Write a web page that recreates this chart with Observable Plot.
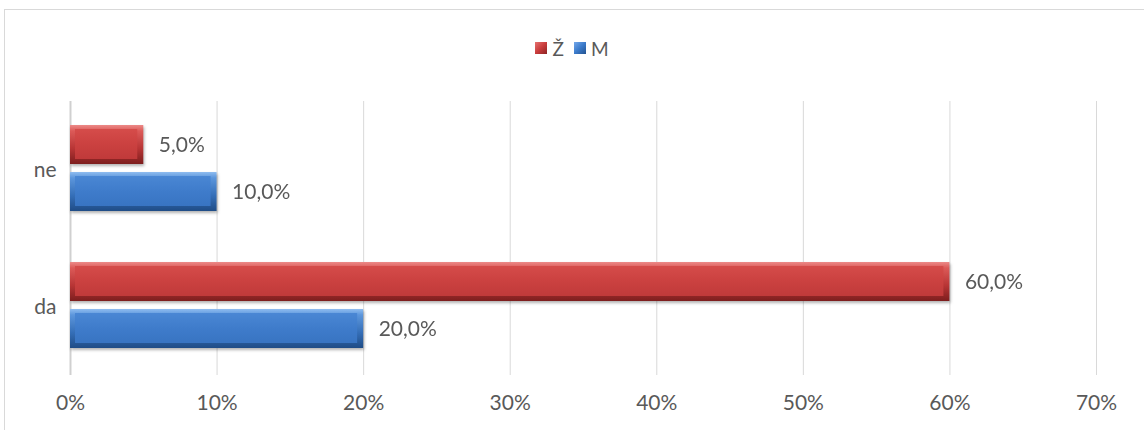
<!DOCTYPE html>
<html>
<head>
<meta charset="utf-8">
<script src="https://cdn.jsdelivr.net/npm/d3@7"></script>
<script src="https://cdn.jsdelivr.net/npm/@observablehq/plot@0.6"></script>
<style>
  html, body { margin: 0; padding: 0; background: #fff; overflow: hidden; width: 1144px; height: 430px; }
  #frame { position: absolute; left: 4px; top: 9px; width: 1200px; height: 500px; border-left: 1.5px solid #d9d9d9; border-top: 1.5px solid #d9d9d9; }
  #chart { position: absolute; left: 0; top: 0; }
  #legend { position: absolute; left: 0; top: 36px; width: 1144px; height: 24px; display: flex; justify-content: center; align-items: center; font-family: Lato, "Open Sans", sans-serif; font-size: 19px; color: #595959; }
  .item { display: flex; align-items: center; margin: 0 5px; }
  .sw { width: 12px; height: 12px; margin-right: 5px; box-sizing: border-box; }
</style>
</head>
<body>
<div id="frame"></div>
<div id="chart"></div>
<div id="legend"></div>
<script>
const categories = ["ne", "da"];
const series = ["Ž", "M"];
const valuesZ = [5, 60];
const valuesM = [10, 20];
const tickValues = [0, 10, 20, 30, 40, 50, 60, 70];
const colorsOuter = ["url(#gR)", "url(#gB)"];
const colorsInner = ["url(#iR)", "url(#iB)"];

const data = categories.flatMap((c, i) => [
  {cat: c, s: series[0], v: valuesZ[i]},
  {cat: c, s: series[1], v: valuesM[i]}
]);

const fmt = v => v.toFixed(1).replace(".", ",") + "%";

const chart = Plot.plot({
  width: 1144,
  height: 430,
  marginTop: 100,
  marginBottom: 55,
  marginLeft: 70,
  marginRight: 48,
  style: {fontFamily: "Lato, 'Open Sans', sans-serif", fontSize: "21px", color: "#595959", background: "transparent", overflow: "visible"},
  x: {domain: [0, 70], ticks: tickValues, tickFormat: d => d + "%", tickSize: 0, tickPadding: 20, label: null},
  y: {domain: series, axis: null, paddingInner: 8 / 48, paddingOuter: 0.5156, align: 0.47},
  fy: {domain: categories, padding: 0, label: null, tickSize: 0, tickPadding: 14},
  color: {domain: series, range: colorsOuter},
  marks: [
    Plot.gridX(tickValues, {stroke: "#d9d9d9", strokeOpacity: 1, strokeWidth: 1}),
    Plot.ruleX([0], {stroke: "#d0d0d0", strokeWidth: 2}),
    Plot.barX(data, {x: "v", y: "s", fy: "cat", fill: "s"}),
    Plot.barX(data, {x: "v", y: "s", fy: "cat", fill: d => d.s === series[0] ? colorsInner[0] : colorsInner[1], insetLeft: 5, insetRight: 6, insetTop: 4, insetBottom: 5}),
    Plot.text(data, {x: "v", y: "s", fy: "cat", text: d => fmt(d.v), dx: 15, textAnchor: "start", fill: "#595959", fontSize: 21})
  ]
});

const svg = d3.select(chart);
const defs = svg.insert("defs", ":first-child");
function grad(id, stops, horizontal) {
  const g = defs.append("linearGradient").attr("id", id).attr("x1", 0).attr("y1", 0).attr("x2", horizontal ? 1 : 0).attr("y2", horizontal ? 0 : 1);
  stops.forEach(([o, c]) => g.append("stop").attr("offset", o).attr("stop-color", c));
}
grad("gR", [[0, "#ec8a88"], [0.15, "#dc5a58"], [0.6, "#b83535"], [1, "#7d1e1e"]]);
grad("iR", [[0, "#d54c4a"], [0.5, "#cb4140"], [1, "#c03a3a"]]);
grad("gB", [[0, "#8fbcf0"], [0.15, "#5c96dc"], [0.6, "#356fb8"], [1, "#1f4c86"]]);
grad("iB", [[0, "#4a87d4"], [0.5, "#3f7ccb"], [1, "#3874c2"]]);

svg.selectAll("g[aria-label='bar']").filter((d, i) => i === 0).style("filter", "drop-shadow(1px 2px 1.5px rgba(0,0,0,0.3))");

document.getElementById("chart").appendChild(chart);

// legend
const legend = d3.select("#legend");
const swatchCss = [
  "linear-gradient(135deg, #e67270 0%, #c93c3c 50%, #8c2424 100%)",
  "linear-gradient(135deg, #74a8ea 0%, #3c7bcb 50%, #23528f 100%)"
];
series.forEach((s, i) => {
  const it = legend.append("div").attr("class", "item");
  it.append("div").attr("class", "sw").style("background", swatchCss[i]);
  it.append("span").text(s);
});
</script>
</body>
</html>
